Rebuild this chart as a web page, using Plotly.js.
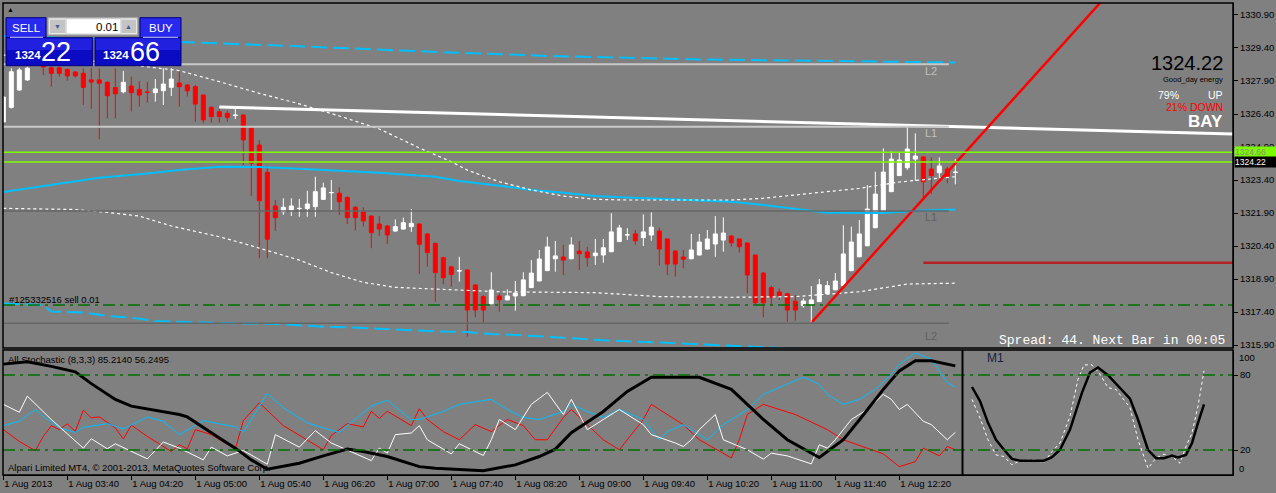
<!DOCTYPE html>
<html><head><meta charset="utf-8">
<script src="https://cdn.plot.ly/plotly-3.0.1.min.js"></script>
<style>html,body{margin:0;padding:0;background:#808080;}#chart{width:1276px;height:493px;}</style>
</head><body><div id="chart"></div>
<script>
// ---------- DATA ----------
const tickBars = [0,8,16,24,32,40,48,56,64,72,80,88,96,104,112];
const tickLabels = ["1 Aug 2013","1 Aug 03:40","1 Aug 04:20","1 Aug 05:00","1 Aug 05:40","1 Aug 06:20","1 Aug 07:00","1 Aug 07:40","1 Aug 08:20","1 Aug 09:00","1 Aug 09:40","1 Aug 10:20","1 Aug 11:00","1 Aug 11:40","1 Aug 12:20"];
const priceTicks = [1315.90,1317.40,1318.90,1320.40,1321.90,1323.40,1324.90,1326.40,1327.90,1329.40,1330.90];

const openP = [1326.04,1326.70,1327.49,1327.95,1328.67,1328.86,1328.50,1328.50,1328.43,1328.31,
1328.25,1327.95,1327.95,1327.84,1327.60,1327.41,1327.67,1327.52,1327.40,1327.37,
1327.46,1327.61,1327.81,1327.72,1327.64,1327.26,1326.70,1326.50,1326.43,1326.33,
1326.35,1325.75,1324.99,1323.75,1322.22,1321.96,1322.04,1322.10,1322.11,1322.19,
1322.52,1322.82,1322.80,1322.61,1322.16,1321.95,1321.76,1321.40,1321.31,1321.08,
1321.17,1321.28,1321.40,1320.95,1320.52,1319.87,1319.45,1319.26,1319.31,1318.63,
1318.10,1317.78,1318.13,1317.95,1318.13,1318.14,1318.51,1318.81,1319.28,1319.82,
1319.90,1319.82,1320.17,1320.13,1319.96,1319.99,1320.14,1320.60,1320.90,1320.95,
1320.78,1320.90,1321.08,1320.72,1320.17,1319.90,1319.82,1319.99,1320.26,1320.49,
1320.67,1320.85,1320.72,1320.54,1319.99,1319.17,1318.51,1318.31,1318.23,1317.89,
1317.69,1317.76,1317.87,1318.23,1318.41,1318.60,1319.28,1319.91,1320.41,1321.23,
1322.01,1322.87,1323.60,1323.96,1324.35,1324.45,1323.90,1323.73,1323.90,1323.74];
const highP = [1327.22,1328.48,1328.50,1328.55,1329.00,1328.95,1328.55,1328.55,1328.45,1328.35,
1328.48,1328.48,1328.48,1327.90,1328.48,1328.36,1328.10,1327.90,1327.87,1327.99,
1328.48,1328.48,1328.37,1327.75,1327.72,1327.30,1326.75,1326.63,1326.54,1326.63,
1326.40,1325.85,1325.22,1324.04,1322.49,1322.57,1322.57,1322.54,1322.91,1323.55,
1323.28,1323.40,1323.07,1322.65,1322.22,1322.16,1321.80,1321.76,1321.35,1321.61,
1321.69,1322.08,1321.42,1320.97,1320.55,1319.90,1319.50,1319.91,1319.33,1318.65,
1318.17,1319.21,1318.25,1318.43,1318.81,1319.21,1319.76,1320.22,1320.82,1320.63,
1320.45,1320.80,1320.63,1320.36,1320.72,1320.72,1321.89,1321.36,1321.21,1321.13,
1321.84,1321.93,1321.23,1320.75,1320.20,1320.22,1320.95,1320.95,1321.13,1321.76,
1321.70,1320.90,1320.75,1320.56,1320.01,1319.20,1318.60,1318.48,1318.25,1318.17,
1318.02,1318.58,1318.90,1318.81,1319.17,1321.34,1321.28,1321.58,1323.17,1323.78,
1324.84,1324.69,1324.66,1325.80,1325.52,1324.47,1324.43,1324.43,1324.00,1324.35];
const lowP = [1326.00,1326.65,1327.45,1327.90,1328.60,1328.17,1327.64,1328.10,1327.91,1328.05,
1326.81,1326.63,1325.25,1326.20,1326.20,1327.34,1326.52,1326.73,1326.91,1326.96,
1326.81,1327.22,1326.73,1327.19,1326.05,1325.98,1326.00,1326.00,1326.05,1326.17,
1324.08,1322.67,1319.84,1319.84,1321.08,1321.81,1321.76,1321.73,1321.73,1321.73,
1322.50,1322.04,1321.81,1321.40,1321.10,1321.28,1320.30,1320.85,1320.49,1321.05,
1321.15,1321.04,1319.13,1319.46,1317.87,1318.66,1318.55,1318.78,1316.28,1317.16,
1316.93,1317.75,1317.41,1317.93,1317.46,1318.12,1318.50,1318.80,1319.27,1319.23,
1319.08,1319.80,1319.31,1319.46,1319.54,1319.64,1320.12,1320.58,1320.67,1320.45,
1320.40,1320.64,1319.51,1319.08,1319.01,1319.39,1319.80,1319.97,1320.24,1319.91,
1320.14,1320.37,1320.10,1318.25,1317.71,1317.16,1317.69,1317.95,1316.96,1317.00,
1317.60,1316.95,1317.85,1318.21,1318.39,1318.58,1319.26,1319.89,1320.39,1321.21,
1321.99,1322.85,1323.58,1323.86,1323.36,1322.54,1322.76,1323.48,1323.25,1323.20];
const closeP = [1327.17,1328.32,1328.40,1328.48,1328.95,1328.54,1328.25,1328.25,1328.13,1328.13,
1327.61,1327.85,1327.80,1327.23,1327.32,1327.84,1327.37,1327.26,1327.38,1327.54,
1327.76,1327.99,1327.64,1327.45,1326.85,1326.13,1326.28,1326.28,1326.25,1326.35,
1325.22,1324.16,1322.46,1320.71,1321.69,1322.16,1322.22,1322.11,1322.31,1322.87,
1323.04,1322.83,1322.41,1321.69,1321.69,1321.54,1321.01,1321.17,1320.90,1321.28,
1321.46,1321.43,1320.48,1320.10,1319.19,1318.96,1319.11,1319.28,1317.49,1317.49,
1317.49,1318.40,1317.96,1318.13,1318.26,1318.86,1319.17,1319.81,1320.36,1319.95,
1319.76,1320.45,1320.05,1319.87,1320.08,1320.32,1321.04,1321.22,1320.91,1320.64,
1321.04,1321.26,1320.26,1319.58,1319.58,1319.80,1320.22,1320.58,1320.72,1320.95,
1320.99,1320.55,1320.37,1319.08,1317.82,1317.82,1318.07,1318.14,1317.49,1317.49,
1317.90,1317.95,1318.64,1318.60,1318.81,1320.04,1320.58,1320.95,1322.08,1322.76,
1323.76,1324.35,1324.31,1324.81,1324.49,1323.32,1323.60,1324.04,1323.57,1323.76];

// envelope / band indicators (bar index, price)
const cyanUpX = [0,23,37,52,68,87,106,119];
const cyanUpY = [1329.95,1329.66,1329.48,1329.25,1329.04,1328.88,1328.79,1328.74];
const cyanMidX = [0,6,12,18,22,27,32,37,43,47,54,57,62,66,70,74,78,82,87,91,95,99,103,110,115,119];
const cyanMidY = [1322.85,1323.17,1323.50,1323.70,1323.85,1324.00,1323.99,1323.91,1323.82,1323.73,1323.55,1323.35,1323.14,1322.95,1322.82,1322.67,1322.61,1322.54,1322.46,1322.41,1322.26,1322.07,1321.91,1321.90,1322.01,1322.06];
const cyanLowX = [0,5,6,10,13,16,19,22,25,30,34,37,40,43,46,49,52,55,58,61,64,67,70,73,77,85,92,100,119];
const cyanLowY = [1317.79,1317.72,1317.42,1317.38,1317.22,1317.15,1316.99,1316.95,1316.92,1316.88,1316.86,1316.80,1316.73,1316.71,1316.66,1316.61,1316.55,1316.51,1316.49,1316.40,1316.36,1316.28,1316.23,1316.16,1316.08,1315.97,1315.85,1315.72,1315.54];
const whiteUpX = [0,10,16,20,22,27,32,37,42,47,52,56,58,62,66,70,74,78,91,95,99,103,107,112,119];
const whiteUpY = [1329.08,1328.85,1328.63,1328.46,1328.37,1327.87,1327.34,1326.86,1326.31,1325.72,1324.86,1324.23,1323.85,1323.32,1322.95,1322.67,1322.52,1322.49,1322.49,1322.57,1322.72,1322.87,1323.02,1323.31,1323.55];
const whiteLowX = [0,9,13,17,21,25,27,30,34,37,41,45,49,56,62,74,82,91,99,107,113,119];
const whiteLowY = [1322.11,1322.06,1321.93,1321.76,1321.31,1320.98,1320.82,1320.52,1320.08,1319.76,1319.19,1318.75,1318.52,1318.43,1318.32,1318.28,1318.10,1318.07,1318.10,1318.32,1318.67,1318.71];

// drawn objects
const regressX = [27, 153.7];
const regressY = [1326.72, 1325.49];
const trendX = [101.1, 137.1];
const trendY = [1316.95, 1331.45];
const levelL2up = 1328.66, levelL1up = 1325.82, levelL1dn = 1321.99, levelL2dn = 1316.89;
const askPrice = 1324.66, bidPrice = 1324.22;
const sellOrderPrice = 1317.72;
const darkRedLevel = 1319.64, darkRedStart = 115;
const levelsEnd = 118.2;

// stochastic (bar index, value)
const stBlackX = [0,3,6,9,11,14,16,19,22,23,25,27,29,31,33,37,40,43,45,48,52,54,60,64,67,69,71,75,78,81,87,91,95,98,102,105,107,110,112,114,116,119];
const stBlackY = [88.7,90.6,86.9,82.5,73.1,60.5,55.1,51.6,48.4,46.5,37.7,29.6,21.5,12.1,4.6,9.4,15.3,20.7,18.8,14.8,6.7,5.4,3.5,8.1,14.8,20.7,33.9,50.8,66.9,78.2,78.2,68.5,44.4,28.2,14.0,28.2,44.0,68.5,83.3,91.4,91.4,87.3];
const stRedX = [0,2,4,5,6,7,8,9,10,11,12,14,15,16,18,21,22,23,24,26,29,30,32,35,40,41,43,45,46,47,48,51,52,53,55,57,59,61,63,65,66.5,68,70,71,73,75,77,78,80,81,83,85,87,91,92,93,95,99,103,105,110,112,114,115,117,118,119];
const stRedY = [36.3,26.9,19.4,30.9,39.5,36.3,40.9,34.9,51.9,45.7,46.5,37.7,28.8,39.8,30.9,18.8,24.2,21.0,36.3,32.3,20.7,43.5,57.8,39.5,20.2,31.5,41.1,38.5,51.0,45.2,51.0,39.5,53.0,44.4,34.7,28.2,40.3,34.7,44.4,39.5,28.2,28.2,46.0,52.4,40.3,28.2,20.2,28.2,44.4,56.5,48.4,40.3,28.2,13.7,28.2,48.4,56.5,48.4,36.3,28.2,16.9,6.7,10.7,21.5,15.3,22.8,20.2];
const stCyanX = [0,2,4,5,7,9,10,13,15,18,20,22,25,29,30,33,35,38,40,42,46,48,51,52,55,57,61,63,65,67,70,71,73,75,77,80,82,83,85,88,90,93,95,100,102,103,105,107,109,111,112,114,116,117,118,119];
const stCyanY = [39.5,43.0,52.4,47.0,37.7,34.1,38.1,41.1,36.9,46.5,43.0,32.3,43.5,38.5,34.1,65.3,53.8,41.7,37.7,34.1,55.1,59.9,44.4,44.4,50.8,56.5,60.5,52.4,46.0,44.4,50.8,56.5,50.8,46.0,52.4,44.4,28.2,34.7,40.3,28.2,40.3,52.4,64.5,78.2,72.6,64.5,56.5,60.5,68.5,80.6,88.7,97.6,92.7,83.3,74.0,70.4];
const stWhiteX = [0,2,3,6,10,11,13,14,18,20,22,25,26,28,30,33,34,37,39,41,46,47,48,49,51,52,53,56,57,60,61,62,64,66,68,70,71,73,75,77,80,81,84,85,86,87,89,90,93,95,96,98,101,102,103,104,106,108,110,111,112,113,115,116,118,119];
const stWhiteY = [56.5,50.2,63.1,44.4,21.5,29.0,21.0,25.0,12.9,26.4,21.5,12.1,22.3,15.3,19.6,8.6,32.3,22.3,35.5,25.6,11.5,21.5,17.5,32.3,33.6,39.5,28.2,16.9,25.0,15.6,28.2,44.4,36.3,56.5,66.1,48.4,60.5,36.3,44.4,52.4,40.3,32.3,25.6,22.8,28.2,36.3,48.4,28.2,20.2,12.7,17.5,15.3,8.9,24.2,21.5,28.2,44.4,52.4,64.5,60.5,52.4,56.5,43.0,40.3,28.2,34.1];

// M1 stochastic window (minute index, value)
const m1BlackX = [0,2,4,6,8,10,12,14.5,18,20,22,24.5,27.5,29.5,31.5,34,37,39.5,41.5,44,46,48,50,51.5,53.5,55,56.5,58];
const m1BlackY = [70.4,59.1,41.7,28.2,20.2,12.9,11.5,11.5,11.5,14.2,20.2,36.3,65.9,82,86,79.8,69.9,61,44.4,20.2,13.5,13.5,15.6,14,16.1,25.6,41.7,56.5];
const m1WhiteX = [0,2,4,6,8,10,12,15.5,18,20,22,24.5,26.5,28,30,32,34,36,39.5,41.5,44,46,48,50,52,53.5,55,56.5,58];
const m1WhiteY = [60.5,45.7,28.2,16.1,14.8,8.1,11.5,12.1,9.9,18.8,25.6,47,76.6,88.1,88.1,80.6,69.9,68.5,53.8,28.2,5.4,13.5,16.7,14.8,9.4,22.8,33.6,55.1,83.3];

// ---------- LAYOUT HELPERS ----------
const FONT = "Liberation Sans, Arial, sans-serif";
function px(x){ return (x - 3) / 1230; }
function py(y){ return (475 - y) / 472; }
const barIdx = openP.map((_, i) => i);

function line(x, y, color, width, dash, xa, ya){
  return {type:'scatter', mode:'lines', x:x, y:y, xaxis:xa||'x', yaxis:ya||'y',
    line:{color:color, width:width, dash:dash||'solid'}, hoverinfo:'skip', showlegend:false};
}

const traces = [
  line(cyanUpX, cyanUpY, '#00BFFF', 2, '16px,6px'),
  line(cyanMidX, cyanMidY, '#00BFFF', 2),
  line(cyanLowX, cyanLowY, '#00BFFF', 2, '16px,6px'),
  line(whiteUpX, whiteUpY, '#FFFFFF', 1.2, '3px,3px'),
  line(whiteLowX, whiteLowY, '#FFFFFF', 1.2, '3px,3px'),
  {type:'candlestick', x:barIdx, open:openP, high:highP, low:lowP, close:closeP,
   xaxis:'x', yaxis:'y', whiskerwidth:0, hoverinfo:'skip', showlegend:false,
   increasing:{line:{color:'#FFFFFF', width:1}, fillcolor:'#FFFFFF'},
   decreasing:{line:{color:'#FF0000', width:1}, fillcolor:'#FF0000'}},
  line(regressX, regressY, '#FFFFFF', 3),
  line(trendX, trendY, '#FF0000', 2.5),
  line(stRedX, stRedY, '#FF0000', 1, null, 'x', 'y2'),
  line(stCyanX, stCyanY, '#00BFFF', 1, null, 'x', 'y2'),
  line(stWhiteX, stWhiteY, '#FFFFFF', 1, null, 'x', 'y2'),
  line(stBlackX, stBlackY, '#000000', 3, null, 'x', 'y2'),
  line(m1WhiteX, m1WhiteY, '#FFFFFF', 1, '3px,3px', 'x2', 'y3'),
  line(m1BlackX, m1BlackY, '#000000', 2.5, null, 'x2', 'y3')
];

const DASHDOT = '12px,5px,3px,5px';
const shapes = [
  // level lines
  {type:'line', xref:'x', yref:'y', x0:-0.05, x1:levelsEnd, y0:levelL2up, y1:levelL2up, line:{color:'#C8C8C8', width:2}},
  {type:'line', xref:'x', yref:'y', x0:-0.05, x1:levelsEnd, y0:levelL1up, y1:levelL1up, line:{color:'#C8C8C8', width:2}},
  {type:'line', xref:'x', yref:'y', x0:-0.05, x1:levelsEnd, y0:levelL1dn, y1:levelL1dn, line:{color:'#666666', width:1.5}},
  {type:'line', xref:'x', yref:'y', x0:-0.05, x1:levelsEnd, y0:levelL2dn, y1:levelL2dn, line:{color:'#666666', width:1.5}},
  {type:'line', xref:'paper', yref:'y', x0:0, x1:1, y0:askPrice, y1:askPrice, line:{color:'#7CFC00', width:1.5}},
  {type:'line', xref:'paper', yref:'y', x0:0, x1:1, y0:bidPrice, y1:bidPrice, line:{color:'#7CFC00', width:1.5}},
  {type:'line', xref:'paper', yref:'y', x0:0, x1:1, y0:sellOrderPrice, y1:sellOrderPrice, line:{color:'#007000', width:1.5, dash:DASHDOT}},
  {type:'line', xref:'x', yref:'y', x0:darkRedStart, x1:153.71, y0:darkRedLevel, y1:darkRedLevel, line:{color:'#B22222', width:2.5}},
  {type:'line', xref:'paper', yref:'y2', x0:0, x1:1, y0:80, y1:80, line:{color:'#007000', width:1.5, dash:DASHDOT}},
  {type:'line', xref:'paper', yref:'y2', x0:0, x1:1, y0:20, y1:20, line:{color:'#007000', width:1.5, dash:DASHDOT}},
  // panel frames
  {type:'rect', xref:'paper', yref:'paper', x0:0, x1:1, y0:py(348), y1:1, line:{color:'#000000', width:1.5}},
  {type:'rect', xref:'paper', yref:'paper', x0:0, x1:1, y0:0, y1:py(350), line:{color:'#000000', width:1.5}},
  {type:'line', xref:'paper', yref:'paper', x0:px(962.5), x1:px(962.5), y0:0, y1:py(350), line:{color:'#000000', width:2}},
  // trade panel
  {type:'rect', xref:'paper', yref:'paper', x0:px(6), x1:px(46), y0:py(37.7), y1:py(17.7), fillcolor:'#2828EE', line:{color:'#00007A', width:1}},
  {type:'rect', xref:'paper', yref:'paper', x0:px(140), x1:px(181), y0:py(37.7), y1:py(17.7), fillcolor:'#2828EE', line:{color:'#00007A', width:1}},
  {type:'rect', xref:'paper', yref:'paper', x0:px(48), x1:px(137.7), y0:py(35), y1:py(17.7), fillcolor:'#D4D4D4', line:{color:'#A8A8A8', width:1}},
  {type:'rect', xref:'paper', yref:'paper', x0:px(49.5), x1:px(66), y0:py(33.5), y1:py(19.2), fillcolor:'#C4C4C4', line:{color:'#E8E8E8', width:1}},
  {type:'rect', xref:'paper', yref:'paper', x0:px(121), x1:px(136.5), y0:py(33.5), y1:py(19.2), fillcolor:'#C4C4C4', line:{color:'#E8E8E8', width:1}},
  {type:'rect', xref:'paper', yref:'paper', x0:px(67), x1:px(120), y0:py(33.5), y1:py(19.2), fillcolor:'#FFFFFF', line:{width:0}},
  {type:'rect', xref:'paper', yref:'paper', x0:px(6), x1:px(92.7), y0:py(65.7), y1:py(37.7), fillcolor:'#0B0BC4', line:{color:'#00007A', width:1}},
  {type:'rect', xref:'paper', yref:'paper', x0:px(95), x1:px(181), y0:py(65.7), y1:py(37.7), fillcolor:'#0B0BC4', line:{color:'#00007A', width:1}},
  {type:'rect', xref:'paper', yref:'paper', x0:px(7), x1:px(91.7), y0:py(50), y1:py(38.5), fillcolor:'#2020DE', line:{width:0}},
  {type:'rect', xref:'paper', yref:'paper', x0:px(96), x1:px(180), y0:py(50), y1:py(38.5), fillcolor:'#2020DE', line:{width:0}},
  {type:'line', xref:'paper', yref:'paper', x0:px(10), x1:px(43), y0:py(37.3), y1:py(37.3), line:{color:'#C8C8FF', width:1}},
  {type:'line', xref:'paper', yref:'paper', x0:px(143), x1:px(178), y0:py(37.3), y1:py(37.3), line:{color:'#C8C8FF', width:1}}
];

function txt(text, x, y, size, color, xanchor, extra){
  return Object.assign({text:text, xref:'paper', yref:'paper', x:px(x), y:py(y), xanchor:xanchor||'left', yanchor:'middle',
    showarrow:false, borderpad:0, font:{family:FONT, size:size, color:color}}, extra||{});
}
function dtxt(text, x, y, color){
  return {text:text, xref:'x', yref:'y', x:x, y:y, xanchor:'center', yanchor:'middle', showarrow:false,
    font:{family:FONT, size:11, color:color}};
}

const annotations = [
  dtxt('L2', 116, 1328.35, '#C0C0C0'),
  dtxt('L1', 116, 1325.54, '#C0C0C0'),
  dtxt('L1', 116, 1321.72, '#606060'),
  dtxt('L2', 116, 1316.31, '#606060'),
  txt('#125332516 sell 0.01', 8, 299, 9.5, '#000000'),
  txt('All Stochastic (8,3,3) 85.2140 56.2495', 7, 359, 9.5, '#000000'),
  txt('Alpari Limited MT4, \u00a9 2001-2013, MetaQuotes Software Corp.', 7, 467, 9.5, '#000000'),
  txt('Spread: 44. Next Bar in 00:05', 1226, 340, 13, '#FFFFFF', 'right', {font:{family:'Liberation Mono, monospace', size:13, color:'#FFFFFF'}}),
  txt('M1', 986, 358, 12, '#1A1A40'),
  txt('1324.22', 1224, 63, 20, '#000000', 'right'),
  txt('Good_day energy', 1224, 79, 7.5, '#000000', 'right'),
  txt('79%', 1157, 95, 10.5, '#FFFFFF'),
  txt('UP', 1224, 95, 10.5, '#FFFFFF', 'right'),
  txt('21% DOWN', 1224, 107, 10.5, '#FF0000', 'right'),
  txt('<b>BAY</b>', 1224, 121.5, 17, '#FFFFFF', 'right', {font:{family:'Liberation Sans Narrow, Liberation Sans, Arial', size:17, color:'#FFFFFF'}}),
  // axis extras
  {text:'1324.66', xref:'paper', yref:'y', x:1, y:askPrice, xanchor:'left', yanchor:'middle', xshift:1, showarrow:false,
   bgcolor:'#7CFC00', borderpad:0, width:42, height:10, align:'left', font:{family:FONT, size:8.5, color:'#8A8A8A'}},
  {text:'1324.22', xref:'paper', yref:'y', x:1, y:bidPrice, xanchor:'left', yanchor:'middle', xshift:1, showarrow:false,
   bgcolor:'#000000', borderpad:0, width:42, height:10, align:'left', font:{family:FONT, size:8.5, color:'#FFFFFF'}},
  {text:'100', xref:'paper', yref:'paper', x:1, y:py(357), xanchor:'left', yanchor:'middle', xshift:4, showarrow:false, font:{family:FONT, size:9.5, color:'#000000'}},
  {text:'0', xref:'paper', yref:'paper', x:1, y:py(468), xanchor:'left', yanchor:'middle', xshift:4, showarrow:false, font:{family:FONT, size:9.5, color:'#000000'}},
  // trade panel texts
  txt('\u25B2', 10, 10, 7, '#000000', 'center'),
  txt('SELL', 26, 27.5, 11.5, '#FFFFFF', 'center'),
  txt('BUY', 160.5, 27.5, 11.5, '#FFFFFF', 'center'),
  txt('0.01', 119, 26.5, 11.5, '#000000', 'right'),
  txt('\u25BC', 57.7, 26.5, 7, '#4A5A8A', 'center'),
  txt('\u25B2', 128.8, 26.5, 7, '#4A5A8A', 'center'),
  txt('<b>1324</b>', 28, 55.5, 11.5, '#FFFFFF', 'center'),
  txt('22', 55.5, 51.5, 27, '#FFFFFF', 'center'),
  txt('<b>1324</b>', 116, 55.5, 11.5, '#FFFFFF', 'center'),
  txt('66', 145, 51.5, 27, '#FFFFFF', 'center')
];

const layout = {
  width:1276, height:493,
  margin:{l:3, r:43, t:3, b:18, pad:0},
  paper_bgcolor:'#808080', plot_bgcolor:'#808080',
  showlegend:false, hovermode:false, dragmode:false,
  boxgap:0.5, boxgroupgap:0,
  font:{family:FONT, size:9.5, color:'#000000'},
  xaxis:{domain:[0,1], range:[-0.04, 153.71], anchor:'y2', showgrid:false, zeroline:false,
    tickmode:'array', tickvals:tickBars, ticktext:tickLabels, ticks:'outside', ticklen:4, tickcolor:'#000000',
    ticklabelposition:'outside right', tickfont:{family:FONT, size:9.5, color:'#000000'},
    showline:true, linecolor:'#000000', linewidth:1, rangeslider:{visible:false}, fixedrange:true},
  yaxis:{domain:[py(348), 1], range:[1315.764, 1331.445], anchor:'x', side:'right', showgrid:false, zeroline:false,
    tickmode:'array', tickvals:priceTicks, tickformat:'.2f', ticks:'outside', ticklen:4, tickcolor:'#000000',
    tickfont:{family:FONT, size:9.5, color:'#000000'}, showline:true, linecolor:'#000000', linewidth:1, fixedrange:true},
  yaxis2:{domain:[0, py(350)], range:[0,100], anchor:'x', side:'right', showgrid:false, zeroline:false,
    tickmode:'array', tickvals:[20,80], ticks:'outside', ticklen:4, tickcolor:'#000000',
    tickfont:{family:FONT, size:9.5, color:'#000000'}, showline:true, linecolor:'#000000', linewidth:1, fixedrange:true},
  xaxis2:{domain:[px(964), 1], range:[-2, 65.25], anchor:'y3', visible:false, fixedrange:true},
  yaxis3:{domain:[0, py(350)], range:[0,100], anchor:'x2', visible:false, fixedrange:true},
  shapes:shapes,
  annotations:annotations
};

Plotly.newPlot('chart', traces, layout, {displayModeBar:false, staticPlot:true});
</script></body></html>
